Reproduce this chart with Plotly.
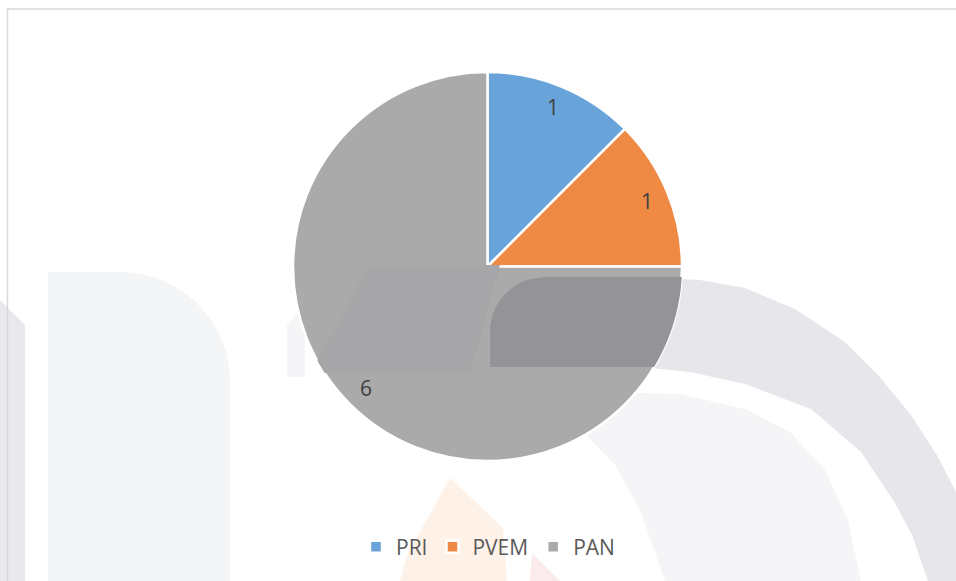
import math
import plotly.graph_objects as go

parties = ["PRI", "PVEM", "PAN"]
seats = [1, 1, 6]
colors = ["#68A4D9", "#EE8A44", "#AAAAAA"]

W, H = 956, 581
cx, cy, r = 487.5, 266.5, 194.5   # pie centre / radius in page pixels

fig = go.Figure(go.Pie(
    labels=parties,
    values=seats,
    sort=False,
    direction="clockwise",
    rotation=0,
    marker=dict(colors=colors, line=dict(color="white", width=2.5)),
    textinfo="none",
    domain=dict(x=[(cx - r) / W, (cx + r) / W], y=[1 - (cy + r) / H, 1 - (cy - r) / H]),
    hoverinfo="label+value",
))

# slice value labels placed near the rim, computed from the data
total = sum(seats)
annotations = []
cum = 0
for name, v in zip(parties, seats):
    theta = 2 * math.pi * (cum + v / 2) / total
    cum += v
    lx = cx + 0.885 * r * math.sin(theta)
    ly = cy - 0.885 * r * math.cos(theta)
    annotations.append(dict(
        x=lx, y=ly, xref="x", yref="y", text=str(v), showarrow=False,
        font=dict(family="Open Sans", size=21, color="#404040"),
    ))


# ---- faint background watermark (decoration) ----
def poly(pts):
    return "M " + " L ".join(f"{x:.1f},{y:.1f}" for x, y in pts) + " Z"


def clip_to_pie(x_left, x_right, y0, y1):
    left, right = [], []
    y = y0
    while y <= y1 + 0.01:
        half = math.sqrt(max(r * r - (y - cy) ** 2, 0))
        xl = max(x_left(y), cx - half)
        xr = min(x_right(y), cx + half)
        if xr > xl:
            left.append((xl, y))
            right.append((xr, y))
        y += 2
    return poly(left + right[::-1])


def arc_pts(acx, acy, ar, a0, a1, n=30):
    return [(acx + ar * math.cos(math.radians(a0 + (a1 - a0) * i / n)),
             acy + ar * math.sin(math.radians(a0 + (a1 - a0) * i / n))) for i in range(n + 1)]


below = []
below.append(("#F4F5F7", poly([(48, 272), (120, 272)] + arc_pts(120, 382, 110, -90, 0) + [(230, 581), (48, 581)])))
below.append(("#E9E8ED", poly([(0, 300), (25, 325), (25, 581), (0, 581)])))
outer = [(500, 277), (640, 277), (700, 280), (745, 288), (795, 309), (845, 342), (878, 375), (911, 415), (938, 457), (956, 492), (956, 581)]
inner = [(928, 581), (912, 535), (895, 503), (861, 452), (811, 409), (745, 384), (690, 372), (651, 368), (500, 368)]
below.append(("#E7E6EB", poly(outer + inner)))
inner_light = [(600, 392), (680, 394), (745, 409), (790, 432), (825, 470), (848, 520), (861, 581), (665, 581), (640, 510), (615, 465), (588, 437)]
below.append(("#F5F5F7", poly(inner_light)))
below.append(("#F5F5F7", poly([(287, 325), (305, 305), (305, 377), (287, 377)])))
below.append(("#FEF2E8", poly([(450, 478), (503, 528), (507, 581), (400, 581), (407, 555)])))
below.append(("#FBEBEC", poly([(532, 553), (560, 581), (530, 581)])))

shapes = []
for col, path in below:
    shapes.append(dict(type="path", xref="x", yref="y", path=path, fillcolor=col,
                       line=dict(width=0), layer="below"))

# tinted regions over the pie
shapes.append(dict(type="path", xref="x", yref="y",
                   path=clip_to_pie(lambda y: 370 - (y - 265) * (60 / 108), lambda y: 500 - (y - 265) * (30 / 108), 265, 373),
                   fillcolor="#A6A6A8", line=dict(width=0), layer="above"))
shapes.append(dict(type="path", xref="x", yref="y",
                   path=clip_to_pie(lambda y: 490 + max(0, 55 - math.sqrt(max(55 ** 2 - (332 - y) ** 2, 0))) if y < 332 else 490,
                                    lambda y: 700, 277, 368),
                   fillcolor="#939398", line=dict(width=0), layer="above"))

# chart border
shapes.append(dict(type="rect", xref="x", yref="y", x0=7.5, x1=W + 5, y0=9, y1=H + 5,
                   line=dict(color="#D9D9D9", width=1.5), fillcolor="rgba(0,0,0,0)", layer="below"))

fig.update_layout(
    width=W, height=H,
    margin=dict(l=0, r=0, t=0, b=0),
    paper_bgcolor="white",
    plot_bgcolor="rgba(0,0,0,0)",
    xaxis=dict(range=[0, W], visible=False, fixedrange=True, domain=[0, 1]),
    yaxis=dict(range=[H, 0], visible=False, fixedrange=True, domain=[0, 1]),
    showlegend=True,
    legend=dict(
        orientation="h", x=0.5 + 10 / W, xanchor="center", y=1 - 547 / H, yanchor="middle",
        font=dict(family="Open Sans", size=21, color="#595959"),
        itemwidth=30, bgcolor="rgba(0,0,0,0)",
    ),
    shapes=shapes,
    annotations=annotations,
)

fig.write_html("out.html", config=dict(displayModeBar=False),
               post_script="document.body.style.margin='0';document.body.style.overflow='hidden';")
